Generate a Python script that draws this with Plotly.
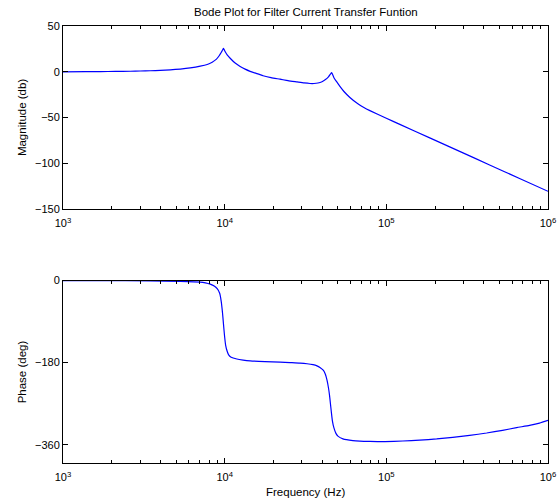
import plotly.graph_objects as go

# Magnitude curve
mag_freq = [1000, 1377, 1705, 2109, 2610, 3008, 3467, 3999, 4609, 5314, 6124, 7063, 7798, 8372,
            8861, 9247, 9514, 9719, 9830, 9972, 10143, 10362, 10813, 11610, 12466, 13384,
            14370, 15649, 17283, 19370, 22000, 24660, 28020, 30960, 33720, 35680, 37770,
            39990, 42020, 43850, 45110, 45880, 46540, 47410, 49130, 51640, 54670, 59520,
            66680, 72620, 79100, 100000, 121200, 185600, 284200, 435400, 667000, 1000000]
mag_db = [0.0, 0.1, 0.2, 0.4, 0.6, 0.85, 1.15, 1.6, 2.2, 3.0, 4.2, 6.1, 8.0, 10.5,
          13.5, 17.5, 21.0, 24.0, 25.5, 23.5, 21.0, 18.5, 14.8, 9.5, 5.8, 2.9,
          0.5, -1.8, -4.3, -6.4, -8.1, -9.7, -11.1, -12.2, -12.8, -12.8, -12.2,
          -10.8, -8.5, -5.5, -2.5, -1.0, -3.0, -6.5, -10.5, -16.0, -21.5, -28.0,
          -35.0, -39.0, -42.4, -50.8, -57.4, -72.2, -86.9, -101.7, -116.5, -130.5]

# Phase curve
ph_freq = [1000, 1705, 3467, 5314, 7063, 7600, 8137, 8613, 8990, 9314, 9514, 9692, 9830, 9972,
           10143, 10362, 10585, 10967, 11893, 13010, 14370, 17783, 22000, 25370, 29240, 32310,
           35180, 37240, 38860, 40840, 42020, 42920, 43850, 44470, 45110, 45750, 46410, 47410,
           48780, 50180, 53880, 62130, 68620, 79100, 97880, 126460, 161000, 204900, 257300,
           327600, 417300, 523800, 639100, 768900, 886300, 1000000]
ph_deg = [0, -0.2, -0.7, -1.8, -3.5, -5.2, -8, -12, -18, -28, -45, -70, -95, -120,
          -142, -155, -163, -168, -172, -174.3, -176, -177.6, -178.7, -179.8, -181, -182.5,
          -184.5, -187, -190.5, -197, -206, -218, -235, -250, -270, -290, -308, -323,
          -335, -341, -347, -351, -352.2, -352.8, -353, -351.8, -349.8, -347.3, -343.8,
          -339.4, -334.3, -328.4, -322.5, -317.5, -312.5, -306.5]

x_tickvals = [1e3, 1e4, 1e5, 1e6]
x_ticktext = ["10<sup>3</sup>", "10<sup>4</sup>", "10<sup>5</sup>", "10<sup>6</sup>"]
mag_ticks = [-150, -100, -50, 0, 50]
ph_ticks = [-360, -180, 0]

minor_vals = [m * 10 ** e for e in (3, 4, 5) for m in range(2, 10)]

FONT = "Liberation Sans, Arial, Helvetica, sans-serif"
W, H = 560, 501
L, R, T, B = 62.5, 11.5, 26, 37.7
ph = H - T - B

fig = go.Figure()
fig.add_trace(go.Scatter(x=mag_freq, y=mag_db, mode="lines",
                         line=dict(color="#0000ff", width=1.2, shape="spline", smoothing=0.5),
                         xaxis="x", yaxis="y"))
fig.add_trace(go.Scatter(x=ph_freq, y=ph_deg, mode="lines",
                         line=dict(color="#0000ff", width=1.2, shape="spline", smoothing=0.5),
                         xaxis="x2", yaxis="y2"))

axis_common = dict(showline=True, linecolor="black", linewidth=1, mirror="ticks",
                   ticks="inside", ticklen=5, tickcolor="black", showgrid=False,
                   zeroline=False, automargin=False,
                   tickfont=dict(family=FONT, size=11, color="black"))

xa = dict(type="log", range=[3, 6], tickvals=x_tickvals, ticktext=x_ticktext,
          ticklabelstandoff=4,
          minor=dict(ticks="inside", ticklen=3, tickcolor="black", tickvals=minor_vals,
                     showgrid=False), **axis_common)

top_bottom = (H - B - (209.3)) / ph
bot_top = (H - B - 280.7) / ph

fig.update_layout(
    width=W, height=H, autosize=False,
    margin=dict(l=L, r=R, t=T, b=B, autoexpand=False),
    paper_bgcolor="white", plot_bgcolor="white",
    showlegend=False,
    xaxis=dict(domain=[0, 1], anchor="y", **xa),
    yaxis=dict(domain=[top_bottom, 1], anchor="x", range=[-150, 50], tickvals=mag_ticks,
               **axis_common),
    xaxis2=dict(domain=[0, 1], anchor="y2", **xa),
    yaxis2=dict(domain=[0, bot_top], anchor="x2", range=[-400, 0], tickvals=ph_ticks,
                **axis_common),
)

pw = W - L - R
def px_x(p):
    return (p - L) / pw
def px_y(p):
    return (H - B - p) / ph

annots = [
    dict(text="Bode Plot for Filter Current Transfer Funtion", x=px_x(305.5), y=px_y(12),
         size=11.5),
    dict(text="Magnitude (db)", x=px_x(21), y=px_y(117.6), textangle=-90, size=11.5),
    dict(text="Phase (deg)", x=px_x(21), y=px_y(372), textangle=-90, size=11.5),
    dict(text="Frequency (Hz)", x=px_x(305.5), y=px_y(492), size=11.5),
]
for a in annots:
    size = a.pop("size")
    fig.add_annotation(xref="paper", yref="paper", showarrow=False, xanchor="center",
                       yanchor="middle", font=dict(family=FONT, size=size, color="black"), **a)

fig.write_html("out.html", config={"displayModeBar": False},
               post_script="document.body.style.margin='0px';document.body.style.overflow='hidden';")
